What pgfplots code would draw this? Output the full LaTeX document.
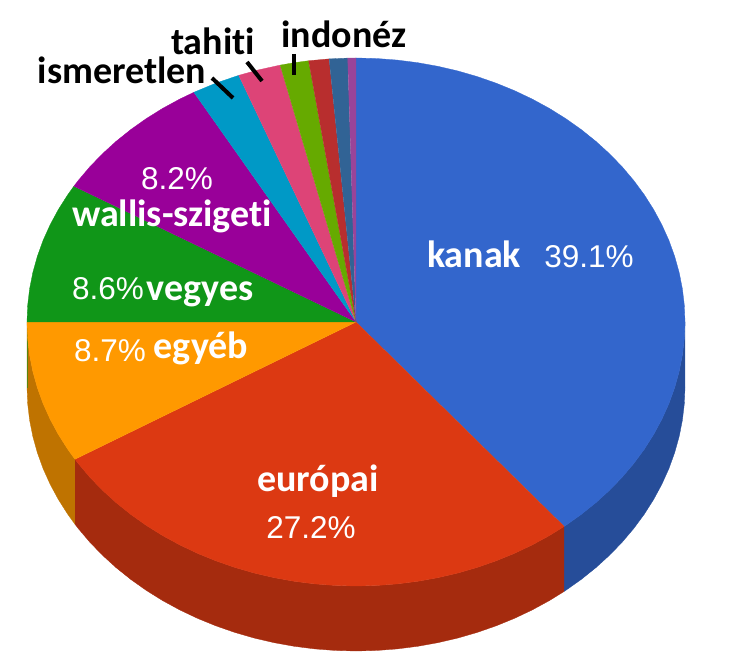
\documentclass[border=0pt]{standalone}
\usepackage{fontspec}
\setmainfont{Liberation Sans}
\newfontfamily\lab[Ligatures=NoCommon]{Carlito}
\usepackage{pgfplots}
\pgfplotsset{compat=1.18}

\definecolor{ckanak}{HTML}{3366CC}
\definecolor{ceuro}{HTML}{DC3912}
\definecolor{cegyeb}{HTML}{FF9900}
\definecolor{cvegyes}{HTML}{109618}
\definecolor{cwallis}{HTML}{990099}
\definecolor{cism}{HTML}{0099C6}
\definecolor{ctahiti}{HTML}{DD4477}
\definecolor{cindo}{HTML}{66AA00}
\definecolor{cred}{HTML}{B82E2E}
\definecolor{cblue}{HTML}{316395}
\definecolor{cpurp}{HTML}{994499}
\definecolor{skanak}{HTML}{264D99}
\definecolor{seuro}{HTML}{A52B0E}
\definecolor{segyeb}{HTML}{BF7300}

% shares (%): kanak 39.1, europai 27.2, egyeb 8.7, vegyes 8.6, wallis 8.2,
% ismeretlen 2.4, tahiti 2.1, indonez 1.4, then 1.0, 0.9, 0.4
% table rows: cumulated percent, radius (0 or 1), drop (0 top, 1 bottom of wall)
\pgfplotsset{
  /pgfplots/table/pie/.style={row sep=\\, header=false,
    x expr={356+329*\thisrowno{1}*sin(3.6*\thisrowno{0})},
    y expr={-322+264*\thisrowno{1}*cos(3.6*\thisrowno{0})-65*\thisrowno{2}}},
  slice/.style={fill=#1, draw=#1, line width=0.3pt},
}
\tikzset{
  lbl/.style={anchor=base, text=white, font=\lab\bfseries\fontsize{38}{38}\selectfont},
  pct/.style={anchor=base, text=white, font=\fontsize{31.5}{32}\selectfont},
  blk/.style={anchor=base, text=black, font=\lab\bfseries\fontsize{38}{38}\selectfont},
  lead/.style={black, line width=4pt},
}

\begin{document}
\begin{tikzpicture}
\path[use as bounding box] (0,0) rectangle (730pt,664pt);
\begin{axis}[
  scale only axis, width=730pt, height=664pt,
  xmin=0, xmax=730, ymin=-664, ymax=0,
  hide axis, clip=false,
]
% walls
\addplot[slice=skanak] table[pie] {
25 1 0\\26 1 0\\27 1 0\\28 1 0\\29 1 0\\30 1 0\\31 1 0\\32 1 0\\33 1 0\\34 1 0\\35 1 0\\36 1 0\\37 1 0\\38 1 0\\39 1 0\\39.1 1 0\\
39.1 1 1\\39 1 1\\38 1 1\\37 1 1\\36 1 1\\35 1 1\\34 1 1\\33 1 1\\32 1 1\\31 1 1\\30 1 1\\29 1 1\\28 1 1\\27 1 1\\26 1 1\\25 1 1\\
};
\addplot[slice=seuro] table[pie] {
39.1 1 0\\40 1 0\\41 1 0\\42 1 0\\43 1 0\\44 1 0\\45 1 0\\46 1 0\\47 1 0\\48 1 0\\49 1 0\\50 1 0\\51 1 0\\52 1 0\\53 1 0\\54 1 0\\55 1 0\\56 1 0\\57 1 0\\58 1 0\\59 1 0\\60 1 0\\61 1 0\\62 1 0\\63 1 0\\64 1 0\\65 1 0\\66 1 0\\66.3 1 0\\
66.3 1 1\\66 1 1\\65 1 1\\64 1 1\\63 1 1\\62 1 1\\61 1 1\\60 1 1\\59 1 1\\58 1 1\\57 1 1\\56 1 1\\55 1 1\\54 1 1\\53 1 1\\52 1 1\\51 1 1\\50 1 1\\49 1 1\\48 1 1\\47 1 1\\46 1 1\\45 1 1\\44 1 1\\43 1 1\\42 1 1\\41 1 1\\40 1 1\\39.1 1 1\\
};
\addplot[slice=segyeb] table[pie] {
66.3 1 0\\67 1 0\\68 1 0\\69 1 0\\70 1 0\\71 1 0\\72 1 0\\73 1 0\\74 1 0\\75 1 0\\
75 1 1\\74 1 1\\73 1 1\\72 1 1\\71 1 1\\70 1 1\\69 1 1\\68 1 1\\67 1 1\\66.3 1 1\\
};
% thin olive sliver on the left edge of the wall
\addplot[cvegyes!60!segyeb, line width=0.8pt] coordinates {(27.4,-322) (27.4,-388)};
% top face
\addplot[slice=ckanak] table[pie] {
0 0 0\\0 1 0\\1 1 0\\2 1 0\\3 1 0\\4 1 0\\5 1 0\\6 1 0\\7 1 0\\8 1 0\\9 1 0\\10 1 0\\11 1 0\\12 1 0\\13 1 0\\14 1 0\\15 1 0\\16 1 0\\17 1 0\\18 1 0\\19 1 0\\20 1 0\\21 1 0\\22 1 0\\23 1 0\\24 1 0\\25 1 0\\26 1 0\\27 1 0\\28 1 0\\29 1 0\\30 1 0\\31 1 0\\32 1 0\\33 1 0\\34 1 0\\35 1 0\\36 1 0\\37 1 0\\38 1 0\\39 1 0\\39.1 1 0\\
};
\addplot[slice=ceuro] table[pie] {
0 0 0\\39.1 1 0\\40 1 0\\41 1 0\\42 1 0\\43 1 0\\44 1 0\\45 1 0\\46 1 0\\47 1 0\\48 1 0\\49 1 0\\50 1 0\\51 1 0\\52 1 0\\53 1 0\\54 1 0\\55 1 0\\56 1 0\\57 1 0\\58 1 0\\59 1 0\\60 1 0\\61 1 0\\62 1 0\\63 1 0\\64 1 0\\65 1 0\\66 1 0\\66.3 1 0\\
};
\addplot[slice=cegyeb] table[pie] {
0 0 0\\66.3 1 0\\67 1 0\\68 1 0\\69 1 0\\70 1 0\\71 1 0\\72 1 0\\73 1 0\\74 1 0\\75 1 0\\
};
\addplot[slice=cvegyes] table[pie] {
0 0 0\\75 1 0\\76 1 0\\77 1 0\\78 1 0\\79 1 0\\80 1 0\\81 1 0\\82 1 0\\83 1 0\\83.6 1 0\\
};
\addplot[slice=cwallis] table[pie] {
0 0 0\\83.6 1 0\\84 1 0\\85 1 0\\86 1 0\\87 1 0\\88 1 0\\89 1 0\\90 1 0\\91 1 0\\91.8 1 0\\
};
\addplot[slice=cism] table[pie] {
0 0 0\\91.8 1 0\\93 1 0\\94.2 1 0\\
};
\addplot[slice=ctahiti] table[pie] {
0 0 0\\94.2 1 0\\95.2 1 0\\96.3 1 0\\
};
\addplot[slice=cindo] table[pie] {
0 0 0\\96.3 1 0\\97 1 0\\97.7 1 0\\
};
\addplot[slice=cred] table[pie] {
0 0 0\\97.7 1 0\\98.7 1 0\\
};
\addplot[slice=cblue] table[pie] {
0 0 0\\98.7 1 0\\99.6 1 0\\
};
\addplot[slice=cpurp] table[pie] {
0 0 0\\99.6 1 0\\100 1 0\\
};
% leader lines
\addplot[lead] coordinates {(212,-78) (233,-98)};
\addplot[lead] coordinates {(247,-62) (262,-81)};
\addplot[lead] coordinates {(294,-54) (294,-75)};
% labels
\node[lbl] at (axis cs:474,-268) {kanak};
\node[pct] at (axis cs:589,-268) {39.1\%};
\node[lbl] at (axis cs:318,-492) {európai};
\node[pct] at (axis cs:311,-538) {27.2\%};
\node[pct] at (axis cs:110,-362) {8.7\%};
\node[lbl] at (axis cs:201,-359) {egyéb};
\node[pct] at (axis cs:108,-300) {8.6\%};
\node[lbl] at (axis cs:200,-301) {vegyes};
\node[pct] at (axis cs:177,-190) {8.2\%};
\node[lbl] at (axis cs:172,-227) {wallis-szigeti};
\node[blk] at (axis cs:213,-55) {tahiti};
\node[blk] at (axis cs:122,-84) {ismeretlen};
\node[blk] at (axis cs:344,-48) {indonéz};
\end{axis}
\end{tikzpicture}
\end{document}
